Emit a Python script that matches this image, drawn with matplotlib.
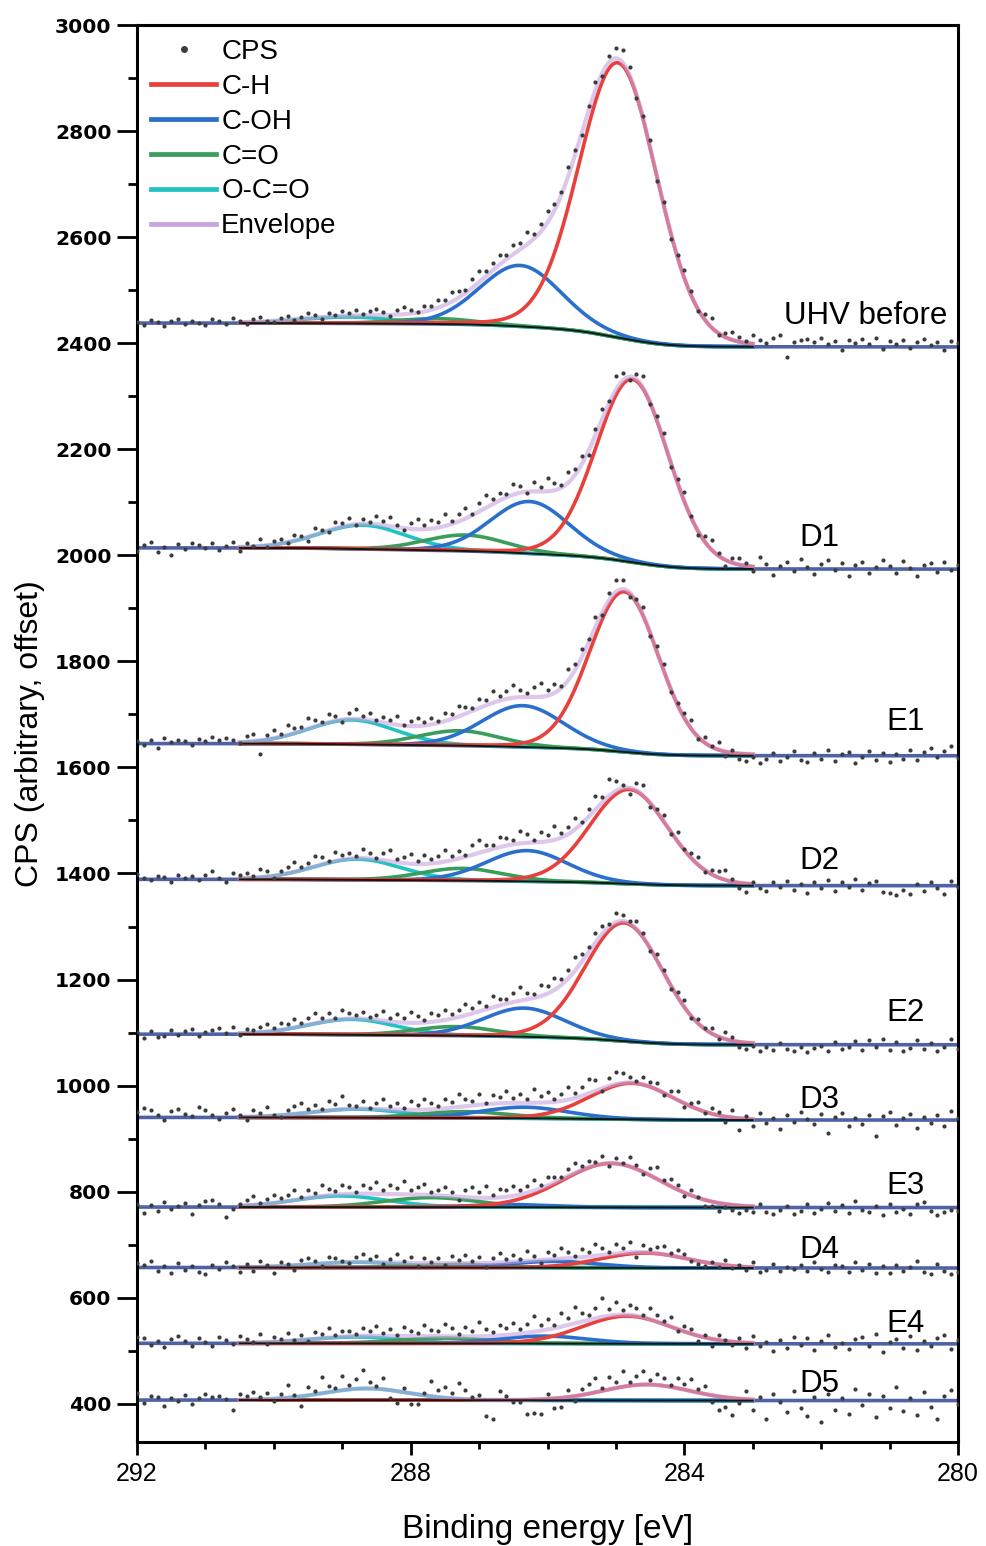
import numpy as np
import matplotlib.pyplot as plt
from matplotlib.lines import Line2D
from matplotlib.ticker import MultipleLocator

plt.rcParams['font.family'] = ['Liberation Sans', 'DejaVu Sans']

# measured binding-energy grid (eV), 0.1 eV step
energy = np.round(np.arange(292.0, 279.95, -0.1), 2)

spectra = ["UHV before", "D1", "E1", "D2", "E2", "D3", "E3", "D4", "E4", "D5"]

# Shirley background end points (offset CPS): high-BE side / low-BE side
bg_high = [2438, 2014, 1645, 1389, 1097, 940, 771, 657, 514, 407]
bg_low = [2393, 1974, 1622, 1377, 1077, 935, 770, 656, 513, 406]

# fitted components per spectrum: (centre eV, height CPS, FWHM eV)
comp_ch = [(284.97, 518, 1.35), (284.76, 345, 1.25), (284.88, 302, 1.20),
           (284.81, 178, 1.35), (284.88, 223, 1.35), (284.77, 68, 1.45),
           (285.07, 83, 1.70), (284.58, 28, 1.50), (284.84, 52, 1.55),
           (284.55, 30, 1.50)]
comp_coh = [(286.40, 115, 1.40), (286.26, 98, 1.35), (286.36, 78, 1.40),
            (286.30, 58, 1.40), (286.34, 54, 1.40), (286.34, 21, 1.50),
            (286.50, 5, 1.40), (285.90, 12, 1.50), (286.05, 14, 1.50),
            (286.30, 0, 1.40)]
comp_co = [(287.60, 10, 1.40), (287.20, 30, 1.40), (287.29, 28, 1.40),
           (287.25, 23, 1.40), (287.34, 17, 1.40), (287.20, 12, 1.50),
           (287.70, 18, 1.60), (287.30, 6, 1.50), (287.50, 10, 1.60),
           (287.50, 0, 1.50)]
comp_oco = [(288.90, 12, 1.60), (288.70, 45, 1.50), (288.86, 46, 1.50),
            (288.78, 39, 1.50), (288.86, 29, 1.50), (288.78, 16, 1.60),
            (289.02, 21, 1.60), (288.78, 10, 1.60), (288.80, 12, 1.60),
            (288.64, 22, 1.50)]

# CPS points: deviation from the fit envelope at each grid energy
res_uhv = [2, -4, 5, 1, -6, 3, 7, -2, 4, 0, -5,
           6, 3, -3, 8, 2, -4, 5, 9, 1, -2, 4,
           7, -1, 3, 10, 5, -3, 6, 2, 9, 4, 11,
           3, 8, 12, 5, -2, 9, 14, 6, 2, 10, 7,
           15, 9, 18, 12, 5, 16, 21, 10, 14, 19, 8,
           17, 12, 24, 9, 15, 22, 13, 6, 18, 11, -4,
           9, 16, -6, 12, 20, 23, 14, -8, 5, 12, -10,
           6, -12, 3, 15, 8, -4, 11, 17, -3, 7, 14,
           9, 4, 16, 8, 2, 12, 18, -22, 6, 10, 13,
           7, 15, 4, 9, -8, 11, 6, 13, 3, 16, -5,
           10, 4, 12, -3, 8, 14, 2, 9, -6, 11, 7]
res_d1 = [-6, 4, 11, -9, 2, -14, 7, -3, 9, 5, -2,
          8, -5, 3, 10, -7, 6, 1, 12, -4, 7, 9,
          -2, 10, 5, -8, 13, 4, -3, 11, 6, 14, -1,
          9, 3, 15, 7, 18, 5, -4, 12, 20, 8, 16,
          11, 22, 6, 14, 19, 3, 17, 24, 10, 15, 7,
          20, 13, -3, 18, 9, 25, 14, 6, 21, 11, 16,
          -8, 12, 19, 4, 26, 15, -6, 10, 22, -4, 8,
          14, -10, 6, 17, 2, -7, 11, 19, 4, -12, 9,
          13, 5, -9, 18, 7, -14, 3, 11, -6, 16, 2,
          -11, 8, 15, -4, 10, -15, 6, 12, -8, 3, 17,
          5, -9, 14, 1, -13, 7, 10, -6, 12, -3, 8]
res_e1 = [4, -3, 6, -8, 9, 2, 7, 5, -4, 8, 3,
          12, 6, 9, 4, -2, 11, 14, -25, 8, 15, 5,
          18, 10, 7, 21, 13, 4, 16, 9, -5, 12, 19,
          6, 14, 3, 11, 8, 17, 2, 10, 15, 7, 13,
          4, 16, 9, 20, 12, 5, 18, 11, 22, 8, 15,
          24, 13, 7, 19, 26, 10, 17, 3, 21, 12, 15,
          6, 19, -5, 14, 22, 18, -9, 4, 15, -7, 10,
          12, -6, 3, 8, 16, -4, 10, 2, 14, -8, 5,
          -10, -14, -6, -16, -8, 3, -12, -5, 8, -9, -13,
          4, -7, 10, -11, 2, 7, -15, -4, 9, -8, 5,
          -12, 3, -6, 11, -9, 6, 14, -3, 8, 17, -5]
res_d2 = [9, 3, -2, 6, 4, -5, 7, 2, 5, -1, 8,
          14, 2, -6, 11, 6, 9, 3, 15, 10, -4, 7,
          12, 18, 5, 9, 20, 13, 2, 16, 8, 11, 4,
          17, 10, 3, 14, 21, 7, 12, 19, 5, 16, 9,
          13, 22, 8, 15, 4, 18, 25, 11, 7, 20, 14,
          9, 24, 16, 5, 19, 12, 27, 8, 14, 21, 3,
          15, 26, 10, 32, 18, 6, -12, 14, 20, -8, 4,
          11, -5, 16, 2, 9, 14, -3, 7, 12, 18, 5,
          -10, -16, 3, -7, -12, 6, -4, 8, -9, 2, -14,
          5, -6, 10, -11, 7, -3, 12, -8, 4, 9, -13,
          -15, -18, -9, -16, 3, -11, 6, -4, -17, 8, -2]
res_e2 = [3, -8, 5, -6, -4, 7, -2, 6, 9, -5, 4,
          8, 11, 2, 13, -3, 7, 4, 10, 15, 6, 12,
          9, 16, 5, 12, 19, 8, 14, 3, 17, 11, 6,
          13, 4, 10, 18, 7, 15, 9, 20, 12, 5, 16,
          11, 19, 8, 14, 22, 10, 17, 6, 21, 13, 9,
          18, 25, 12, 7, 20, 15, 23, 11, 16, 26, 14,
          9, 19, 14, 6, 17, 12, 3, 15, 8, -6, 11,
          4, -8, 9, 13, -4, 7, 2, 10, -5, 14, 6,
          -9, -12, -5, -14, -7, -11, 2, -10, -13, -6, -15,
          -8, -3, -12, 4, -9, -6, 7, -11, 9, -4, 11,
          -10, 5, -13, -7, 8, -9, 3, -12, -5, 10, -8]
res_d3 = [10, 18, 14, 4, -6, 11, 16, 7, 2, 19, 13,
          5, -3, 8, 15, 3, -7, 12, 6, 17, 1, -4,
          9, 14, 20, 6, 12, 3, 17, 10, 24, 8, 5,
          15, 2, 11, 19, 7, 13, 4, 16, 9, 21, 12,
          6, 18, 10, 25, 14, 8, 20, 3, 17, 11, 22,
          9, 16, 7, 26, 12, 19, 5, 14, 24, 10, 17,
          28, 20, -6, 15, 22, 18, 10, 4, 14, 8, 12,
          -5, 9, 16, -8, 6, 13, -3, 11, 7, -10, 15,
          -22, 5, -14, 12, -6, 3, -17, 9, -4, 14, 2,
          -8, 11, -25, 6, 13, -12, 4, -7, 10, -30, 8,
          15, -9, 3, 12, -16, 6, -5, 10, -11, 17, 4]
res_e3 = [6, -12, 3, -8, 9, -5, 2, 7, -14, 4, 10,
          13, 5, -20, -6, 3, 11, 16, 2, 9, 14, 7,
          12, 19, 4, 15, 8, 21, 11, 6, 17, 13, 3,
          16, 10, 22, 7, 18, 12, 25, 9, 14, 20, 5,
          11, 17, 8, -6, 14, 19, 10, 23, 6, 15, 12,
          18, 9, 13, 21, 7, 16, 11, 4, 14, 19, 8,
          12, 6, 15, -5, 10, 3, 18, 8, -4, 13, 22,
          5, 14, 9, -6, 11, 2, -12, -8, -16, -5, -10,
          -14, -7, -11, 4, -9, -13, -6, 3, -12, -8, 6,
          -10, -4, 9, -7, 5, -11, 12, -5, -9, 3, -14,
          7, -8, -3, -12, 6, 10, -6, -15, -9, -4, -7]
res_d4 = [9, 4, 12, -6, 3, -10, 8, -4, 2, -8, -12,
          5, -3, 10, 2, -9, 6, -7, 11, 3, -12, 7,
          4, -8, 10, 13, 6, -5, 12, 8, 3, -2, 9,
          14, 5, 11, -3, 7, 16, 4, 12, -6, 9, 2,
          10, -4, 13, 6, 15, 3, 11, -7, 8, 17, 5,
          12, 4, 18, 9, -5, 14, 7, 20, 11, 3, 16,
          8, 22, 13, 5, 17, 10, 19, -9, 14, 6, 11,
          15, 4, 12, 8, -3, -6, -8, 2, -5, 9, -4,
          3, -6, 10, -9, -4, 7, -7, 2, -3, 5, -5,
          11, -2, -7, 6, 3, -8, 12, -4, 8, -10, 4,
          -9, 5, -6, 2, 13, -7, -11, 7, -5, -12, -8]
res_e4 = [12, 9, -3, 5, -7, 8, 14, 4, -5, 10, 3,
          -6, 11, 6, -2, 13, 7, 2, 15, -4, 9, 5,
          16, 1, 10, -3, 12, 7, 18, 4, 11, 9, 3,
          14, 8, 19, 5, 13, 2, 17, 10, 6, 21, 12,
          9, 24, 15, 4, 18, 11, 27, 14, 7, 20, 13,
          22, 8, 16, 29, 11, 19, 6, 25, 14, 31, 17,
          10, 20, 35, 13, 24, 9, 18, 15, 5, 21, 12,
          6, 17, -3, 11, 8, -10, 4, -13, 9, 2, -6,
          8, -11, 14, -5, 3, -14, 6, -9, 12, -3, 10,
          -12, 5, 16, -7, 2, -10, 8, 13, -4, 18, -15,
          4, 9, -8, 14, -11, 6, -5, 11, 17, -9, 7]
res_d5 = [14, -5, 8, 6, -12, 3, -2, 9, -8, 4, 11,
          6, 8, 2, -20, 10, 7, 15, 4, 12, -4, 9,
          24, 3, -18, 16, 7, 31, 12, 5, 26, 9, 18,
          35, 13, 6, 22, -15, -22, 8, -20, -19, 4, 28,
          14, 21, 10, 29, 17, 5, 8, -30, -36, 16, 7,
          -5, -4, -27, -26, -28, 9, -19, -18, 14, -9, 12,
          18, 27, 5, 23, 11, 30, 6, 16, 25, 8, 21,
          14, 4, 19, 10, 23, 7, 15, -13, -25, -18, -32,
          -8, 15, -20, 6, -35, 11, -4, -22, 18, -14, -29,
          7, -40, 12, -18, 5, -26, 21, -9, 13, -31, 9,
          -15, 25, -20, 4, -28, 16, -12, -35, 8, 19, -6]
residuals = [res_uhv, res_d1, res_e1, res_d2, res_e2,
             res_d3, res_e3, res_d4, res_e4, res_d5]

# where each sample name is written (eV, CPS of text baseline)
label_pos = [(282.55, 2436), (282.32, 2018), (281.05, 1670), (282.32, 1409),
             (281.05, 1121), (282.32, 958), (281.05, 796), (282.32, 675),
             (281.05, 535), (282.32, 422)]

col_ch = '#e8403c'
col_coh = '#2b6fcd'
col_co = '#3b9d5b'
col_oco = '#20c2c2'
col_env = '#c7a4e0'
col_dot = '#3c3c3c'
fit_window = (283.0, 290.5)


def pseudo_voigt(x, centre, height, fwhm, eta=0.08):
    d = 4.0 * (x - centre) ** 2 / fwhm ** 2
    return height * ((1 - eta) * np.exp(-np.log(2) * d) + eta / (1 + d))


def shirley(x, signal, lo, hi):
    # x ascending: background rises with the integrated signal towards high BE
    cum = np.concatenate([[0], np.cumsum(0.5 * (signal[1:] + signal[:-1]) * np.diff(x))])
    return lo + (hi - lo) * cum / cum[-1]


fig = plt.figure(figsize=(9.86, 15.46), dpi=100)
ax = fig.add_axes([0.139, 0.0673, 0.8326, 0.9165])

xs = np.linspace(280.0, 292.0, 1201)
win = (xs >= fit_window[0]) & (xs <= fit_window[1])

for k in range(len(spectra)):
    comps = [comp_oco[k], comp_co[k], comp_coh[k], comp_ch[k]]
    colors = [col_oco, col_co, col_coh, col_ch]
    peaks = [pseudo_voigt(xs, *p) for p in comps]
    total = np.sum(peaks, axis=0)
    bg = shirley(xs, total, bg_low[k], bg_high[k])

    ax.plot(xs, bg, color='#5062a6', lw=2.6, zorder=2, solid_capstyle='butt')
    for pk, c in zip(peaks, colors):
        ax.plot(xs[win], (bg + pk)[win], color=c, lw=2.6, zorder=3)
    ax.plot(xs[win], (bg + total)[win], color=col_env, lw=3.0, alpha=0.6, zorder=4)
    ax.plot(xs[win], bg[win], color='#0d1a10', lw=1.4, zorder=5)

    env_pts = np.interp(energy, xs, bg + total)
    ax.plot(energy, env_pts + np.array(residuals[k]), ls='none', marker='o',
            ms=3.0, color=col_dot, mec='none', zorder=6)

    ax.text(label_pos[k][0], label_pos[k][1], spectra[k], fontsize=22.5,
            ha='left', va='baseline', zorder=7)

ax.set_xlim(292, 280)
ax.set_ylim(328, 3000)
ax.xaxis.set_major_locator(MultipleLocator(4))
ax.xaxis.set_minor_locator(MultipleLocator(1))
ax.yaxis.set_major_locator(MultipleLocator(200))
ax.yaxis.set_minor_locator(MultipleLocator(100))

for s in ax.spines.values():
    s.set_linewidth(2.2)
ax.tick_params(axis='y', which='major', direction='out', length=14.4, width=2, pad=4)
ax.tick_params(axis='y', which='minor', direction='out', length=6.5, width=2)
ax.tick_params(axis='x', which='major', direction='out', length=9.4, width=2,
               pad=5, labelsize=18)
ax.tick_params(axis='x', which='minor', direction='out', length=5, width=2)
for lab in ax.get_yticklabels():
    lab.set_fontfamily('DejaVu Sans')
    lab.set_fontweight('bold')
    lab.set_fontsize(14.6)

ax.set_xlabel('Binding energy [eV]', fontsize=24)
ax.set_ylabel('CPS (arbitrary, offset)', fontsize=23)
ax.xaxis.set_label_coords(0.5, -0.051)
ax.yaxis.set_label_coords(-0.112, 0.5)

handles = [Line2D([], [], ls='none', marker='o', ms=5, color=col_dot, mec='none'),
           Line2D([], [], color=col_ch, lw=3.4),
           Line2D([], [], color=col_coh, lw=3.4),
           Line2D([], [], color=col_co, lw=3.4),
           Line2D([], [], color=col_oco, lw=3.4),
           Line2D([], [], color=col_env, lw=3.4)]
ax.legend(handles, ['CPS', 'C-H', 'C-OH', 'C=O', 'O-C=O', 'Envelope'],
          loc='upper left', frameon=False, fontsize=20, handlelength=2.35,
          handletextpad=0.18, labelspacing=0.32, borderaxespad=0.2,
          borderpad=0.3)

fig.savefig('out.png', dpi=100)
